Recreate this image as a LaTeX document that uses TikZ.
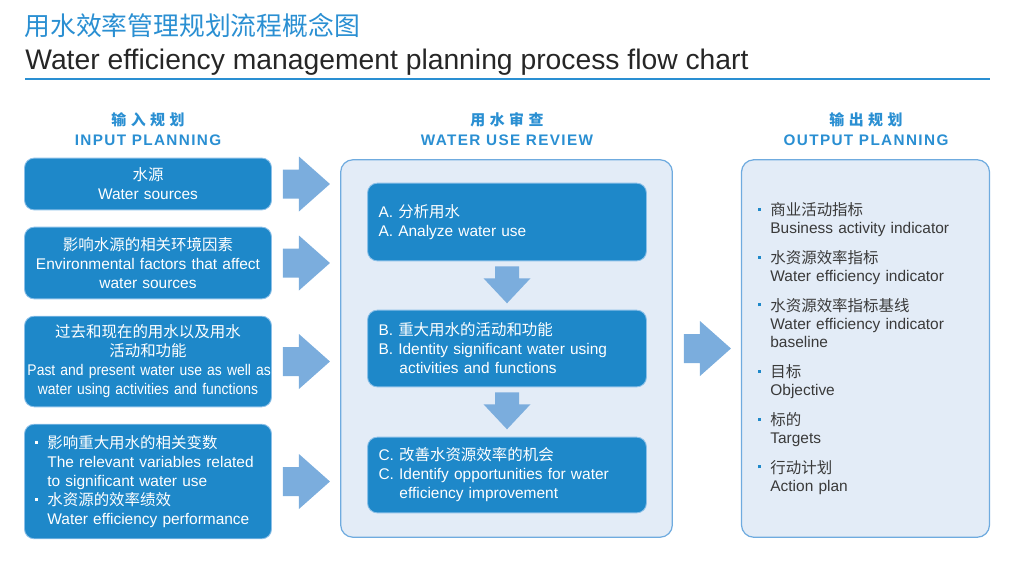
\documentclass[tikz,border=0pt]{standalone}
\usepackage{fontspec}
\usepackage{graphicx}
\setmainfont{Liberation Sans}
\newfontfamily\cjk{Noto Sans CJK SC}
\newfontfamily\narrowfont[FakeStretch=0.9]{Liberation Sans}
\newfontfamily\hdfont[LetterSpace=9]{Liberation Sans}
\newfontfamily\hdcjk[LetterSpace=30]{Noto Sans CJK SC}
\usetikzlibrary{calc}

\definecolor{boxblue}{HTML}{1E88C9}
\definecolor{boxedge}{HTML}{8CC0E8}
\definecolor{arrowblue}{HTML}{7BADDD}
\definecolor{panelfill}{HTML}{E3ECF7}
\definecolor{paneledge}{HTML}{6FABDF}
\definecolor{titleblue}{HTML}{2A8FD2}
\definecolor{bodygray}{HTML}{3A3A3A}

\newdimen\pxl \pxl=0.5669pt
\newcommand\zh[1]{{\cjk #1}}
\newcommand\bodysize{\fontsize{8.8pt}{10.8pt}\selectfont}
\newcommand\wbul{\makebox[12\pxl][l]{\rule[0.3em]{3\pxl}{3\pxl}}}
\newcommand\bbul{\makebox[12\pxl][l]{\textcolor{boxblue}{\rule[0.3em]{3\pxl}{3\pxl}}}}
\newcommand\hangin{\hspace*{12\pxl}}

\tikzset{
  rightarrow/.pic={\fill[arrowblue] (0,-14.5) -- (16,-14.5) -- (16,-27.5) -- (47,0) -- (16,27.5) -- (16,14.5) -- (0,14.5) -- cycle;},
  downarrow/.pic={\fill[arrowblue] (-12,0) -- (12,0) -- (12,12) -- (23.5,12) -- (0,37) -- (-23.5,12) -- (-12,12) -- cycle;}
}

\begin{document}
\begin{tikzpicture}[x=0.02cm, y=-0.02cm,
  inbox/.style={fill=boxblue, draw=boxedge, line width=0.5pt, rounded corners=5.5pt, text=white,
    minimum width=248\pxl, inner sep=0pt, align=center, text width=232\pxl, font=\bodysize},
  stepbox/.style={fill=boxblue, draw=boxedge, line width=0.5pt, rounded corners=5.5pt, text=white,
    minimum width=280\pxl, inner sep=0pt, align=left, text width=258\pxl, font=\bodysize},
  bgpanel/.style={fill=panelfill, draw=paneledge, line width=0.7pt, rounded corners=7pt, inner sep=0pt},
  colhead/.style={text=titleblue, inner sep=0pt, font=\hdcjk\fontsize{8.5pt}{10pt}\selectfont\bfseries},
  colheaden/.style={text=titleblue, inner sep=0pt, font=\hdfont\fontsize{8.7pt}{10pt}\selectfont\bfseries},
]
\useasboundingbox (0,0) rectangle (1024,562);

% title
\node[anchor=base west, inner sep=0pt, text=titleblue, font=\cjk\fontsize{14.7pt}{16pt}\selectfont] (titlezh) at (24,35) {用水效率管理规划流程概念图};
\node[anchor=base west, inner sep=0pt, text=black!85, font=\fontsize{16.1pt}{18pt}\selectfont] (titleen) at (25,69) {Water efficiency management planning process flow chart};
\draw[titleblue, line width=1.2pt] (25,79) -- (990,79);

% column headers
\node[colhead] (inhead) at (148,120) {输入规划};
\node[colheaden] (inheaden) at (148,140.5) {INPUT PLANNING};
\node[colhead] (revhead) at (507,120) {用水审查};
\node[colheaden] (revheaden) at (507,140.5) {WATER USE REVIEW};
\node[colhead] (outhead) at (866,120) {输出规划};
\node[colheaden] (outheaden) at (866,140.5) {OUTPUT PLANNING};

% input planning
\node[inbox, minimum height=52\pxl] (src1) at (148,184) {\zh{水源}\\Water sources};
\node[inbox, minimum height=72\pxl] (src2) at (148,263) {\zh{影响水源的相关环境因素}\\Environmental factors that affect\\water sources};
\node[inbox, minimum height=91\pxl, text width=242\pxl] (src3) at (148,361.5) {\zh{过去和现在的用水以及用水}\\\zh{活动和功能}\\\mbox{\narrowfont Past and present water use as well as}\\\mbox{\narrowfont water using activities and functions}};
\node[inbox, minimum height=115\pxl, align=left, text width=226\pxl] (src4) at (148,481.5) {\wbul\zh{影响重大用水的相关变数}\\\hangin The relevant variables related\\\hangin to significant water use\\\wbul\zh{水资源的效率绩效}\\\hangin Water efficiency performance};

% water use review
\node[bgpanel, minimum width=333\pxl, minimum height=379\pxl] (review) at (506.5,348.5) {};
\node[stepbox, minimum height=78\pxl] (stepA) at (507,222) {A. \zh{分析用水}\\A. Analyze water use};
\node[stepbox, minimum height=77\pxl] (stepB) at (507,348.5) {B. \zh{重大用水的活动和功能}\\B. Identity significant water using\\\hspace*{21\pxl}activities and functions};
\node[stepbox, minimum height=76\pxl] (stepC) at (507,475) {C. \zh{改善水资源效率的机会}\\C. Identify opportunities for water\\\hspace*{21\pxl}efficiency improvement};

% output planning
\node[bgpanel, minimum width=249\pxl, minimum height=379\pxl, align=left, text width=215\pxl, text=bodygray, font=\fontsize{8.8pt}{10.5pt}\selectfont] (outp) at (865.5,348.5) {%
\bbul\zh{商业活动指标}\\\hangin Business activity indicator\\[11\pxl]
\bbul\zh{水资源效率指标}\\\hangin Water efficiency indicator\\[11\pxl]
\bbul\zh{水资源效率指标基线}\\\hangin Water efficiency indicator\\\hangin baseline\\[11\pxl]
\bbul\zh{目标}\\\hangin Objective\\[11\pxl]
\bbul\zh{标的}\\\hangin Targets\\[11\pxl]
\bbul\zh{行动计划}\\\hangin Action plan};

% arrows
\foreach \s in {1,2,3,4}
  \pic (arr\s) at ($(src\s.east)+(11,0)$) {rightarrow};
\pic (arrAB) at ($(stepA.south)+(0,5)$) {downarrow};
\pic (arrBC) at ($(stepB.south)+(0,5)$) {downarrow};
\pic (arrout) at ($(review.east)+(11,0)$) {rightarrow};
\end{tikzpicture}
\end{document}
